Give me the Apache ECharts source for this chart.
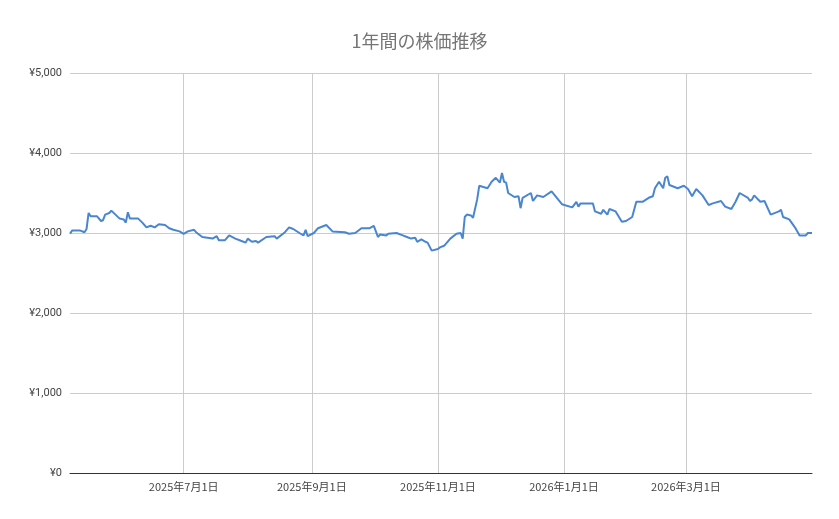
<!DOCTYPE html>
<html><head><meta charset="utf-8">
<script src="https://cdn.jsdelivr.net/npm/echarts@6/dist/echarts.min.js"></script>
<style>html,body{margin:0;padding:0;background:#fff;overflow:hidden}#c{width:839px;height:519px}</style>
</head><body><div id="c"></div>
<script>
const startDate = '2025-05-07';
const endDate = '2026-05-01';
const xTickDates = ['2025-07-01','2025-09-01','2025-11-01','2026-01-01','2026-03-01'];
const dayOffsets = [0,1,5,7,8,9,10,13,15,16,17,19,20,22,24,26,27,28,29,33,35,37,39,41,43,46,48,50,53,55,57,60,61,64,69,71,72,75,77,80,83,85,86,88,90,91,95,99,100,104,106,108,111,113,114,115,118,120,124,127,133,135,138,141,145,147,149,150,153,154,158,161,163,165,167,168,170,172,173,175,178,179,181,184,187,189,190,191,192,194,195,197,198,202,204,206,208,209,210,211,212,215,217,218,219,223,224,226,229,233,238,243,245,246,247,253,254,257,258,260,261,264,267,269,272,274,277,280,282,283,285,287,288,289,290,294,297,299,301,303,306,309,311,315,317,320,322,324,328,329,330,331,334,336,339,343,344,345,348,351,353,356,357,359];
const prices = [2990,3030,3030,3010,3050,3250,3210,3210,3150,3160,3230,3250,3280,3230,3180,3170,3130,3260,3180,3180,3130,3070,3090,3070,3110,3100,3060,3040,3020,2990,3020,3040,3010,2950,2930,2960,2910,2910,2970,2930,2900,2880,2930,2890,2900,2880,2950,2960,2930,3010,3070,3050,3000,2970,3040,2960,3000,3060,3100,3020,3010,2990,3000,3060,3060,3090,2950,2980,2970,2990,3000,2970,2950,2930,2940,2890,2920,2890,2880,2780,2800,2820,2840,2930,2990,3000,2930,3200,3230,3220,3190,3420,3590,3560,3640,3690,3630,3750,3640,3630,3500,3450,3460,3310,3440,3500,3400,3470,3450,3520,3360,3320,3390,3330,3370,3370,3270,3240,3290,3230,3300,3270,3140,3150,3200,3390,3390,3440,3460,3560,3640,3560,3690,3710,3600,3560,3590,3550,3460,3550,3470,3350,3370,3400,3330,3300,3390,3500,3440,3400,3420,3470,3390,3400,3230,3270,3290,3200,3170,3060,2970,2970,3000,3000];
const yTicks = [0,1000,2000,3000,4000,5000];
const DAY = 86400000;
const ts = s => new Date(s + 'T00:00:00').getTime();
const t0 = ts(startDate);
const data = dayOffsets.map((d,i)=>[t0 + d*DAY, prices[i]]);
const fmt = s => { const [y,m,d] = s.split('-').map(Number); return y+'年'+m+'月'+d+'日'; };
const chart = echarts.init(document.getElementById('c'));
chart.setOption({
  animation:false,
  title:{text:'1年間の株価推移',left:'center',top:27,textStyle:{color:'#757575',fontSize:18,fontWeight:'normal',fontFamily:'Noto Sans CJK JP'}},
  grid:{left:70,right:27,top:73,bottom:46,containLabel:false},
  xAxis:{type:'time',min:t0,max:ts(endDate),
    axisLine:{show:true,lineStyle:{color:'#333'}},axisTick:{show:false},
    splitLine:{show:false},axisLabel:{show:false}},
  yAxis:{type:'value',min:yTicks[0],max:yTicks[yTicks.length-1],interval:1000,
    axisLine:{show:false},axisTick:{show:false},
    splitLine:{lineStyle:{color:'#cccccc'}},
    axisLabel:{color:'#444',fontSize:11,fontFamily:'Roboto',formatter:v=>'¥'+v.toLocaleString('en-US')}},
  series:[{type:'line',data:data,showSymbol:false,z:3,lineStyle:{color:'#4a86d0',width:2},itemStyle:{color:'#4a86d0'},
    markLine:{silent:true,symbol:'none',z:1,
      lineStyle:{color:'#cccccc',type:'solid',width:1},
      label:{position:'start',distance:8,color:'#444',fontSize:11,fontFamily:'Noto Sans CJK JP',formatter:p=>p.name},
      data:xTickDates.map(s=>({name:fmt(s),xAxis:ts(s)}))}}]
});
</script></body></html>
